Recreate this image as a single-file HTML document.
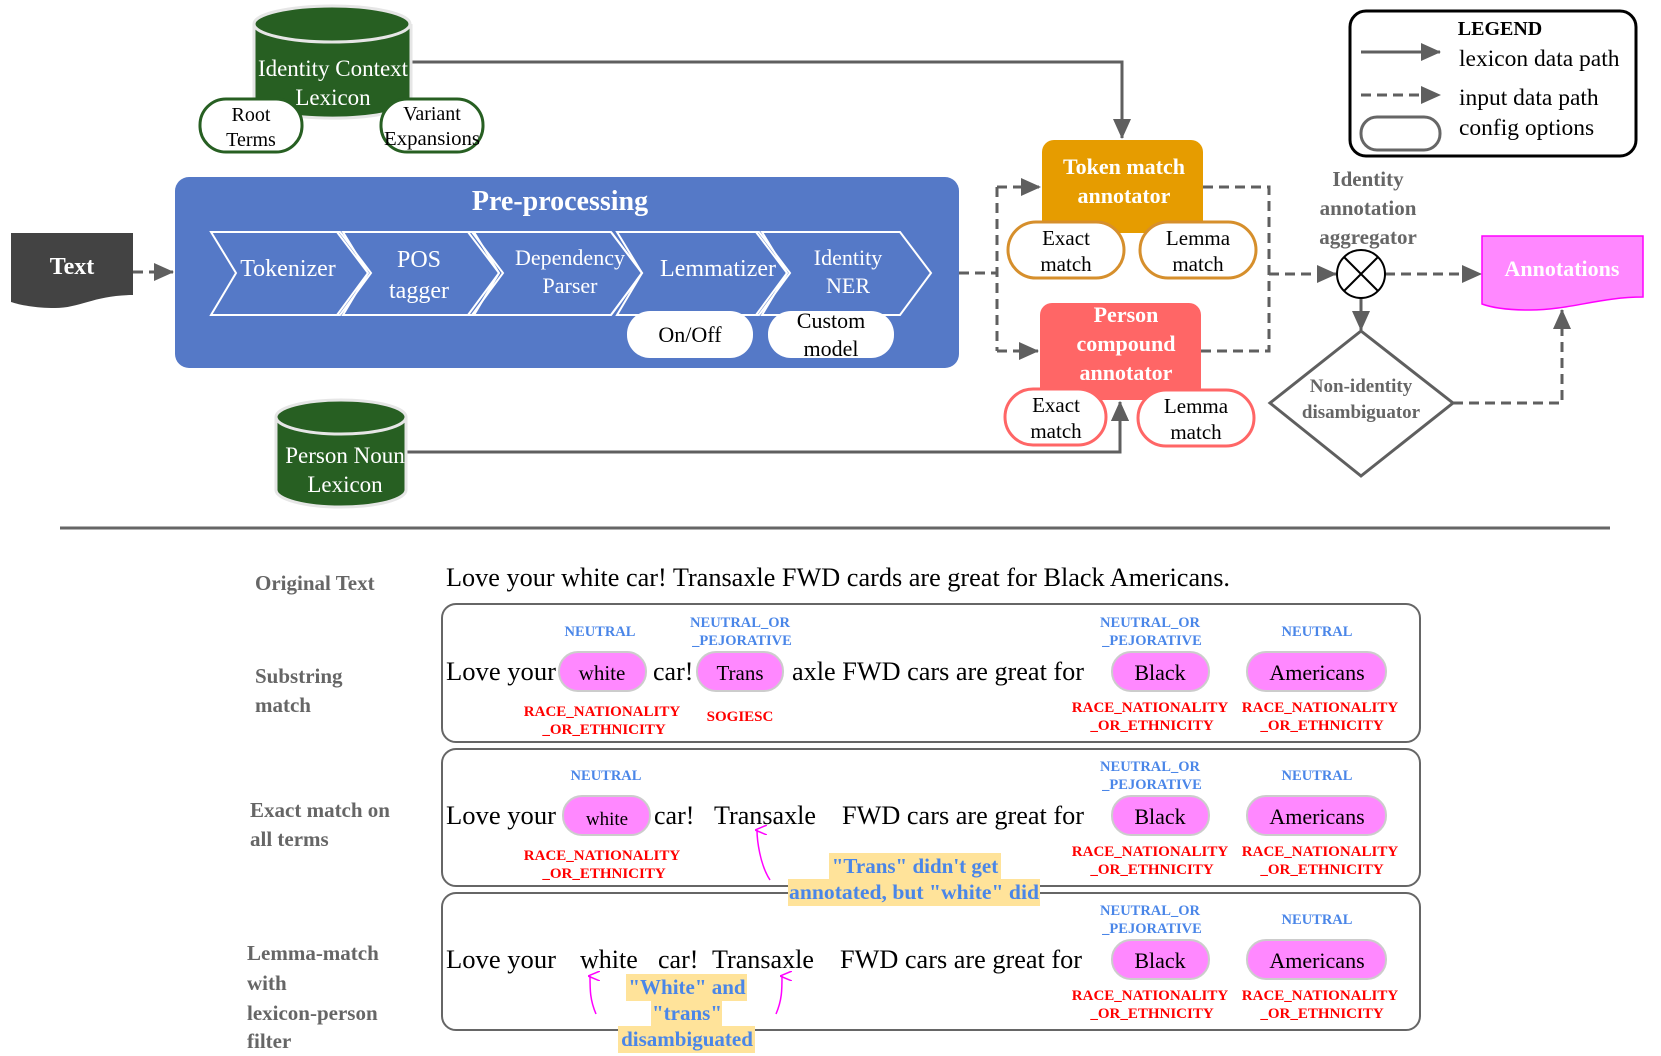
<!DOCTYPE html>
<html><head><meta charset="utf-8"><style>
html,body{margin:0;padding:0;background:#fff;}
svg{display:block;font-family:"Liberation Serif",serif;}
</style></head><body>
<svg width="1661" height="1056" viewBox="0 0 1661 1056" xmlns="http://www.w3.org/2000/svg">
<defs>
<marker id="ahb" markerWidth="20" markerHeight="18" refX="19" refY="9" orient="auto" markerUnits="userSpaceOnUse"><path d="M0,0 L20,9 L0,18 Z" fill="#5f5f5f"/></marker>
<marker id="ahm" markerWidth="10" markerHeight="12" refX="5" refY="2" orient="auto" markerUnits="userSpaceOnUse"><path d="M0,12 L5,0 L10,12" fill="none" stroke="#ff00ff" stroke-width="1.5"/></marker>
</defs>

<path d="M411,62 H1122 V138" fill="none" stroke="#5f5f5f" stroke-width="3" marker-end="url(#ahb)"/>
<path d="M405,452 H1120 V402" fill="none" stroke="#5f5f5f" stroke-width="3" marker-end="url(#ahb)"/>

<path d="M254,24 V100 A78,18 0 0 0 411,100 V24" fill="#275f22" stroke="#e6e6e6" stroke-width="3"/>
<ellipse cx="332" cy="24" rx="78" ry="18" fill="#275f22" stroke="#e6e6e6" stroke-width="3"/>
<text x="333" y="76" font-size="23" fill="#fff" text-anchor="middle">Identity Context</text>
<text x="333" y="105" font-size="23" fill="#fff" text-anchor="middle">Lexicon</text>
<rect x="200" y="99" width="102" height="53" rx="26" fill="#fff" stroke="#275f22" stroke-width="3"/>
<text x="251" y="121" font-size="20" text-anchor="middle">Root</text>
<text x="251" y="146" font-size="20" text-anchor="middle">Terms</text>
<rect x="381" y="99" width="102" height="53" rx="26" fill="#fff" stroke="#275f22" stroke-width="3"/>
<text x="432" y="120" font-size="20" text-anchor="middle">Variant</text>
<text x="432" y="145" font-size="20" text-anchor="middle" textLength="96" lengthAdjust="spacingAndGlyphs">Expansions</text>

<path d="M11,233 H133 V295 C95,295 80,308 55,308 C35,308 20,305 11,302 Z" fill="#434343"/>
<text x="72" y="274" font-size="24" font-weight="bold" fill="#fff" text-anchor="middle">Text</text>
<path d="M133,272 H173" stroke="#5f5f5f" stroke-width="3" stroke-dasharray="10,6" marker-end="url(#ahb)"/>

<rect x="175" y="177" width="784" height="191" rx="14" fill="#5579c7"/>
<text x="560" y="210" font-size="28" font-weight="bold" fill="#fff" text-anchor="middle">Pre-processing</text>
<g fill="none" stroke="#fff" stroke-width="2">
<path d="M211,232 H340 L371,273 L340,315 H211 L236,273 Z"/>
<path d="M343,232 H472 L503,273 L472,315 H343 L368,273 Z"/><path d="M337,232 L368,273 L337,315"/>
<path d="M474,232 H611 L642,273 L611,315 H474 L499,273 Z"/><path d="M468,232 L499,273 L468,315"/>
<path d="M617,232 H759 L790,273 L759,315 H617 L642,273 Z"/><path d="M611,232 L642,273 L611,315"/>
<path d="M762,232 H900 L931,273 L900,315 H762 L787,273 Z"/><path d="M756,232 L787,273 L756,315"/>
</g>
<g fill="#fff" font-size="24" text-anchor="middle">
<text x="288" y="276">Tokenizer</text>
<text x="419" y="267">POS</text><text x="419" y="298">tagger</text>
<text x="570" y="265" font-size="22">Dependency</text><text x="570" y="293" font-size="22">Parser</text>
<text x="718" y="276">Lemmatizer</text>
<text x="848" y="265" font-size="22">Identity</text><text x="848" y="293" font-size="22">NER</text>
</g>
<rect x="627" y="311" width="126" height="47" rx="23" fill="#fff"/>
<text x="690" y="342" font-size="22" text-anchor="middle">On/Off</text>
<rect x="768" y="311" width="126" height="47" rx="23" fill="#fff"/>
<text x="831" y="328" font-size="22" text-anchor="middle">Custom</text>
<text x="831" y="356" font-size="22" text-anchor="middle">model</text>

<path d="M276,417 V490 A65,17 0 0 0 406,490 V417" fill="#275f22" stroke="#e6e6e6" stroke-width="3"/>
<ellipse cx="341" cy="417" rx="65" ry="17" fill="#275f22" stroke="#e6e6e6" stroke-width="3"/>
<text x="345" y="463" font-size="23" fill="#fff" text-anchor="middle">Person Noun</text>
<text x="345" y="492" font-size="23" fill="#fff" text-anchor="middle">Lexicon</text>

<g fill="none" stroke="#5f5f5f" stroke-width="3" stroke-dasharray="10,6">
<path d="M959,273 H997"/>
<path d="M997,187 V351"/>
<path d="M997,187 H1040" marker-end="url(#ahb)"/>
<path d="M997,351 H1038" marker-end="url(#ahb)"/>
<path d="M1203,187 H1269 V351 H1201"/>
<path d="M1269,274 H1336" marker-end="url(#ahb)"/>
<path d="M1385,274 H1481" marker-end="url(#ahb)"/>
<path d="M1453,403 H1562 V310" marker-end="url(#ahb)"/>
</g>
<path d="M1361,296 V330" stroke="#5f5f5f" stroke-width="3" fill="none" marker-end="url(#ahb)"/>

<rect x="1042" y="140" width="161" height="93" rx="12" fill="#e69c00"/>
<text x="1124" y="174" font-size="22" font-weight="bold" fill="#fff" text-anchor="middle">Token match</text>
<text x="1124" y="203" font-size="22" font-weight="bold" fill="#fff" text-anchor="middle">annotator</text>
<rect x="1008" y="222" width="116" height="56" rx="28" fill="#fff" stroke="#d68f2c" stroke-width="3"/>
<text x="1066" y="245" font-size="21" text-anchor="middle">Exact</text>
<text x="1066" y="271" font-size="21" text-anchor="middle">match</text>
<rect x="1140" y="222" width="116" height="56" rx="28" fill="#fff" stroke="#d68f2c" stroke-width="3"/>
<text x="1198" y="245" font-size="21" text-anchor="middle">Lemma</text>
<text x="1198" y="271" font-size="21" text-anchor="middle">match</text>

<rect x="1040" y="303" width="161" height="97" rx="12" fill="#ff6666"/>
<text x="1126" y="322" font-size="22" font-weight="bold" fill="#fff" text-anchor="middle">Person</text>
<text x="1126" y="351" font-size="22" font-weight="bold" fill="#fff" text-anchor="middle">compound</text>
<text x="1126" y="380" font-size="22" font-weight="bold" fill="#fff" text-anchor="middle">annotator</text>
<rect x="1005" y="389" width="101" height="56" rx="28" fill="#fff" stroke="#ff6666" stroke-width="3"/>
<text x="1056" y="412" font-size="21" text-anchor="middle">Exact</text>
<text x="1056" y="438" font-size="21" text-anchor="middle">match</text>
<rect x="1138" y="390" width="116" height="56" rx="28" fill="#fff" stroke="#ff6666" stroke-width="3"/>
<text x="1196" y="413" font-size="21" text-anchor="middle">Lemma</text>
<text x="1196" y="439" font-size="21" text-anchor="middle">match</text>
<path d="M1120,452 V402" stroke="#5f5f5f" stroke-width="3" fill="none" marker-end="url(#ahb)"/>

<g fill="#666" font-size="21" font-weight="bold" text-anchor="middle">
<text x="1368" y="186">Identity</text><text x="1368" y="215">annotation</text><text x="1368" y="244">aggregator</text>
</g>
<circle cx="1361" cy="274" r="24" fill="#fff" stroke="#000" stroke-width="2"/>
<path d="M1344,257 L1378,291 M1378,257 L1344,291" stroke="#000" stroke-width="2"/>

<path d="M1361,331 L1453,403 L1361,476 L1270,403 Z" fill="#fff" stroke="#5f5f5f" stroke-width="3"/>
<text x="1361" y="392" font-size="19" font-weight="bold" fill="#666" text-anchor="middle">Non-identity</text>
<text x="1361" y="418" font-size="19" font-weight="bold" fill="#666" text-anchor="middle">disambiguator</text>

<path d="M1482,236 H1643 V297 C1600,297 1570,310 1530,310 C1505,310 1490,307 1482,304 Z" fill="#ff88ff" stroke="#ff00ff" stroke-width="1.5"/>
<text x="1562" y="276" font-size="22" font-weight="bold" fill="#fff" text-anchor="middle">Annotations</text>

<rect x="1350" y="11" width="286" height="145" rx="16" fill="#fff" stroke="#000" stroke-width="3"/>
<text x="1500" y="35" font-size="20" font-weight="bold" text-anchor="middle">LEGEND</text>
<path d="M1361,52 H1440" stroke="#5f5f5f" stroke-width="3" marker-end="url(#ahb)"/>
<path d="M1361,95 H1440" stroke="#5f5f5f" stroke-width="3" stroke-dasharray="10,6" marker-end="url(#ahb)"/>
<rect x="1361" y="117" width="79" height="33" rx="16" fill="#fff" stroke="#666" stroke-width="3"/>
<g font-size="23.5"><text x="1459" y="66">lexicon data path</text><text x="1459" y="105">input data path</text><text x="1459" y="135">config options</text></g>

<path d="M60,528 H1610" stroke="#666" stroke-width="3"/>

<g fill="#666" font-size="21" font-weight="bold">
<text x="255" y="590">Original Text</text>
<text x="255" y="683">Substring</text><text x="255" y="712">match</text>
<text x="250" y="817">Exact match on</text><text x="250" y="846">all terms</text>
<text x="247" y="960">Lemma-match</text><text x="247" y="990">with</text><text x="247" y="1020">lexicon-person</text><text x="247" y="1048">filter</text>
</g>
<text x="446" y="586" font-size="26" textLength="784" lengthAdjust="spacingAndGlyphs">Love your white car! Transaxle FWD cards are great for Black Americans.</text>

<g fill="none" stroke="#666" stroke-width="2">
<rect x="442" y="604" width="978" height="138" rx="14"/>
<rect x="442" y="749" width="978" height="137" rx="14"/>
<rect x="442" y="893" width="978" height="137" rx="14"/>
</g>

<g fill="#ff88ff" stroke="#cccccc" stroke-width="2">
<rect x="559" y="652" width="87" height="39" rx="19"/>
<rect x="697" y="652" width="86" height="39" rx="19"/>
<rect x="1112" y="652" width="97" height="39" rx="19"/>
<rect x="1247" y="652" width="139" height="39" rx="19"/>
<rect x="563" y="796" width="87" height="39" rx="19"/>
<rect x="1112" y="796" width="97" height="39" rx="19"/>
<rect x="1247" y="796" width="139" height="39" rx="19"/>
<rect x="1112" y="940" width="97" height="39" rx="19"/>
<rect x="1247" y="940" width="139" height="39" rx="19"/>
</g>
<g font-size="26">
<text x="446" y="680" textLength="110" lengthAdjust="spacingAndGlyphs">Love your</text>
<text x="602" y="680" font-size="21" text-anchor="middle">white</text>
<text x="653" y="680">car!</text>
<text x="740" y="680" font-size="21" text-anchor="middle">Trans</text>
<text x="792" y="680" textLength="292" lengthAdjust="spacingAndGlyphs">axle FWD cars are great for</text>
<text x="446" y="824" textLength="110" lengthAdjust="spacingAndGlyphs">Love your</text>
<text x="607" y="825" font-size="19" text-anchor="middle">white</text>
<text x="654" y="824">car!</text>
<text x="714" y="824" textLength="102" lengthAdjust="spacingAndGlyphs">Transaxle</text>
<text x="842" y="824" textLength="242" lengthAdjust="spacingAndGlyphs">FWD cars are great for</text>
<text x="446" y="968" textLength="110" lengthAdjust="spacingAndGlyphs">Love your</text>
<text x="580" y="968">white</text>
<text x="658" y="968">car!</text>
<text x="712" y="968" textLength="102" lengthAdjust="spacingAndGlyphs">Transaxle</text>
<text x="840" y="968" textLength="242" lengthAdjust="spacingAndGlyphs">FWD cars are great for</text>
<g font-size="22" text-anchor="middle">
<text x="1160" y="680">Black</text><text x="1317" y="680">Americans</text>
<text x="1160" y="824">Black</text><text x="1317" y="824">Americans</text>
<text x="1160" y="968">Black</text><text x="1317" y="968">Americans</text>
</g>
</g>

<g fill="#4a86e8" font-size="14.5" font-weight="bold" text-anchor="middle">
<text x="600" y="636">NEUTRAL</text>
<text x="740" y="627">NEUTRAL_OR</text><text x="742" y="645">_PEJORATIVE</text>
<text x="1150" y="627">NEUTRAL_OR</text><text x="1152" y="645">_PEJORATIVE</text>
<text x="1317" y="636">NEUTRAL</text>
<text x="606" y="780">NEUTRAL</text>
<text x="1150" y="771">NEUTRAL_OR</text><text x="1152" y="789">_PEJORATIVE</text>
<text x="1317" y="780">NEUTRAL</text>
<text x="1150" y="915">NEUTRAL_OR</text><text x="1152" y="933">_PEJORATIVE</text>
<text x="1317" y="924">NEUTRAL</text>
</g>
<g fill="#ff0000" font-size="15" font-weight="bold" text-anchor="middle">
<text x="602" y="716">RACE_NATIONALITY</text><text x="604" y="734">_OR_ETHNICITY</text>
<text x="740" y="721">SOGIESC</text>
<text x="1150" y="712">RACE_NATIONALITY</text><text x="1152" y="730">_OR_ETHNICITY</text>
<text x="1320" y="712">RACE_NATIONALITY</text><text x="1322" y="730">_OR_ETHNICITY</text>
<text x="602" y="860">RACE_NATIONALITY</text><text x="604" y="878">_OR_ETHNICITY</text>
<text x="1150" y="856">RACE_NATIONALITY</text><text x="1152" y="874">_OR_ETHNICITY</text>
<text x="1320" y="856">RACE_NATIONALITY</text><text x="1322" y="874">_OR_ETHNICITY</text>
<text x="1150" y="1000">RACE_NATIONALITY</text><text x="1152" y="1018">_OR_ETHNICITY</text>
<text x="1320" y="1000">RACE_NATIONALITY</text><text x="1322" y="1018">_OR_ETHNICITY</text>
</g>

<g fill="#ffe39a">
<rect x="829" y="853" width="172" height="27"/>
<rect x="788" y="879" width="252" height="27"/>
<rect x="626" y="974" width="121" height="27"/>
<rect x="651" y="1000" width="71" height="27"/>
<rect x="618" y="1026" width="137" height="27"/>
</g>
<g fill="#4a86e8" font-size="21" font-weight="bold" text-anchor="middle">
<text x="915" y="873">"Trans" didn't get</text>
<text x="914" y="899" textLength="250" lengthAdjust="spacingAndGlyphs">annotated, but "white" did</text>
<text x="687" y="994">"White" and</text>
<text x="687" y="1020">"trans"</text>
<text x="687" y="1046">disambiguated</text>
</g>
<g fill="none" stroke="#ff00ff" stroke-width="1.5" marker-end="url(#ahm)">
<path d="M770,880 C760,865 757,840 757,830"/>
<path d="M596,1014 C590,1000 590,990 590,976"/>
<path d="M776,1014 C782,1000 782,990 782,976"/>
</g>
</svg>
</body></html>
